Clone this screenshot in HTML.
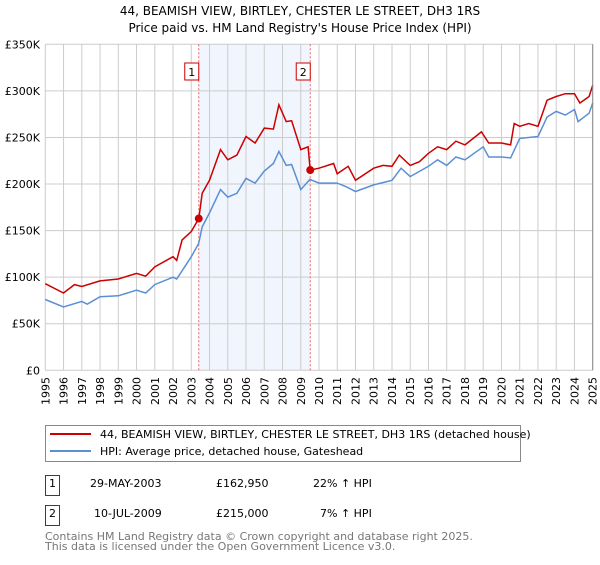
<!DOCTYPE html>
<html><head><meta charset="utf-8"><style>
body{margin:0;background:#fff;font-family:"Liberation Sans","DejaVu Sans",sans-serif;}
svg text{font-family:"DejaVu Sans","Liberation Sans",sans-serif;}
</style></head><body>
<svg id="c" width="600" height="560" xmlns="http://www.w3.org/2000/svg">
<text x="300" y="15" text-anchor="middle" font-size="12">44, BEAMISH VIEW, BIRTLEY, CHESTER LE STREET, DH3 1RS</text>
<text x="300" y="32" text-anchor="middle" font-size="12">Price paid vs. HM Land Registry's House Price Index (HPI)</text>
<g id="grid"></g><g id="series"></g><g id="axes"></g>
<rect x="45.5" y="425.5" width="475" height="36" fill="#fff" stroke="#888"/>
<line x1="50" y1="434" x2="91" y2="434" stroke="#cc0000" stroke-width="2"/>
<text x="100" y="438" font-size="11">44, BEAMISH VIEW, BIRTLEY, CHESTER LE STREET, DH3 1RS (detached house)</text>
<line x1="50" y1="451" x2="91" y2="451" stroke="#5b8fd4" stroke-width="2"/>
<text x="100" y="455" font-size="11">HPI: Average price, detached house, Gateshead</text>
<rect x="45.5" y="475.5" width="14" height="20" fill="#fff" stroke="#cc0000"/>
<text x="52.5" y="487" font-size="11" text-anchor="middle">1</text>
<text x="90" y="487" font-size="11">29-MAY-2003</text>
<text x="216" y="487" font-size="11">£162,950</text>
<text x="313" y="487" font-size="11">22% ↑ HPI</text>
<rect x="45.5" y="505.5" width="14" height="20" fill="#fff" stroke="#cc0000"/>
<text x="52.5" y="517" font-size="11" text-anchor="middle">2</text>
<text x="94" y="517" font-size="11">10-JUL-2009</text>
<text x="216" y="517" font-size="11">£215,000</text>
<text x="320" y="517" font-size="11">7% ↑ HPI</text>
<text x="45" y="540" font-size="11" fill="#777">Contains HM Land Registry data © Crown copyright and database right 2025.</text>
<text x="45" y="550" font-size="11" fill="#777">This data is licensed under the Open Government Licence v3.0.</text>
</svg>
<script>
const yTicks=[0,50000,100000,150000,200000,250000,300000,350000];
const yTickLabels=["£0","£50K","£100K","£150K","£200K","£250K","£300K","£350K"];
const years=[1995,1996,1997,1998,1999,2000,2001,2002,2003,2004,2005,2006,2007,2008,2009,2010,2011,2012,2013,2014,2015,2016,2017,2018,2019,2020,2021,2022,2023,2024,2025];
const hpiYears=[1995,1996,1997,1997.3,1998,1999,2000,2000.5,2001,2002,2002.2,2003,2003.4,2003.6,2004,2004.6,2005,2005.5,2006,2006.5,2007,2007.5,2007.8,2008.2,2008.5,2009,2009.5,2010,2011,2011.5,2012,2013,2014,2014.5,2015,2016,2016.5,2017,2017.5,2018,2019,2019.3,2020,2020.5,2021,2022,2022.5,2023,2023.5,2024,2024.2,2024.8,2025];
const hpiValues=[76,68,74,71,79,80,86,83,92,100,98,122,136,154,169,194,186,190,206,201,214,222,235,220,221,194,205,201,201,197,192,199,204,217,208,219,226,220,229,226,240,229,229,228,249,251,272,278,274,280,267,276,287];
const priceYears=[1995,1996,1996.6,1997,1998,1999,2000,2000.5,2001,2002,2002.2,2002.5,2003,2003.41,2003.6,2004,2004.6,2005,2005.5,2006,2006.5,2007,2007.5,2007.8,2008.2,2008.5,2009,2009.4,2009.52,2010,2010.8,2011,2011.6,2012,2013,2013.5,2014,2014.4,2015,2015.5,2016,2016.5,2017,2017.5,2018,2018.9,2019.3,2020,2020.5,2020.7,2021,2021.5,2022,2022.5,2023,2023.5,2024,2024.3,2024.8,2025];
const priceValues=[93,83,92,90,96,98,104,101,111,122,118,140,149,162.95,190,204,237,226,231,251,244,260,259,285,267,268,237,240,215,217,222,211,219,204,217,220,219,231,220,224,233,240,237,246,242,256,244,244,242,265,262,265,262,290,294,297,297,287,294,306];
const saleYears=[2003.41,2009.52];
const saleValues=[162950,215000];
const saleLabels=["1","2"];
const NS="http://www.w3.org/2000/svg";
const X=y=>45.3+(y-1995)*(547.4/30);
const Y=v=>370.3-v*(326/350000);
function mk(t,a,p){const e=document.createElementNS(NS,t);for(const k in a)e.setAttribute(k,a[k]);p.appendChild(e);return e;}
const grid=document.getElementById('grid'),ser=document.getElementById('series'),ax=document.getElementById('axes');
const sh=mk('rect',{x:X(saleYears[0]),y:Y(350000),width:X(saleYears[1])-X(saleYears[0]),height:Y(0)-Y(350000),fill:'#eef3fc',opacity:0.8},grid);


years.forEach(y=>{const l=mk('line',{x1:X(y),x2:X(y),y1:Y(0),y2:Y(350000),stroke:'#ccc'},grid);


const t=mk('text',{x:0,y:0,'font-size':11,'text-anchor':'end',transform:`translate(${X(y)+4},377) rotate(-90)`},ax);t.textContent=y;

});
yTicks.forEach((v,i)=>{const l=mk('line',{x1:X(1995),x2:X(2025),y1:Y(v),y2:Y(v),stroke:'#ccc'},grid);


const t=mk('text',{x:40,y:Y(v)+4,'font-size':11,'text-anchor':'end'},ax);t.textContent=yTickLabels[i];

});
mk('line',{x1:X(2025),x2:X(2025),y1:Y(0),y2:Y(350000),stroke:'#888'},ax);
saleYears.forEach((s,i)=>{const l=mk('line',{x1:X(s),x2:X(s),y1:Y(0),y2:Y(350000),stroke:'#e66','stroke-dasharray':'2,2'},ser);


const r=mk('rect',{x:X(s)-14,y:63,width:14,height:17,fill:'#fff',stroke:'#cc0000'},ser);


const t=mk('text',{x:X(s)-7,y:76,'font-size':11,'text-anchor':'middle'},ser);t.textContent=saleLabels[i];});
function path(xs,vs){return xs.map((y,i)=>(i?'L':'M')+X(y).toFixed(1)+','+Y(vs[i]*1000).toFixed(1)).join('');}
const hp=mk('path',{d:path(hpiYears,hpiValues),fill:'none',stroke:'#5b8fd4','stroke-width':1.5},ser);


const pp=mk('path',{d:path(priceYears,priceValues),fill:'none',stroke:'#cc0000','stroke-width':1.5},ser);


saleYears.forEach((s,i)=>{const c=mk('circle',{cx:X(s),cy:Y(saleValues[i]),r:4,fill:'#cc0000'},ser);

});
</script>
</body></html>
